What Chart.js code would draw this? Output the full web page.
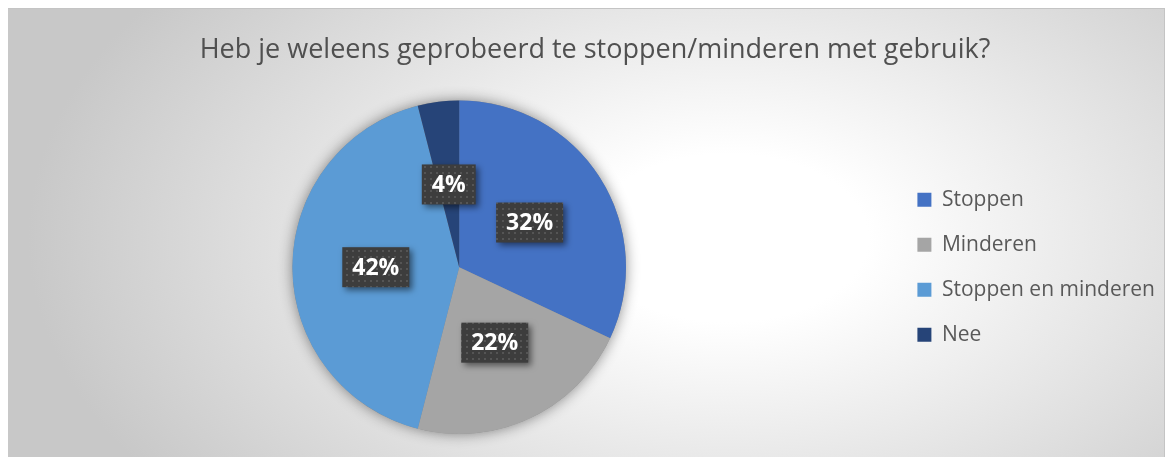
<!DOCTYPE html>
<html>
<head>
<meta charset="utf-8">
<script src="https://cdn.jsdelivr.net/npm/chart.js@4/dist/chart.umd.min.js"></script>
<style>
  body { margin: 0; background: #fff; }
  #wrap {
    position: absolute; left: 8px; top: 8px; width: 1157px; height: 449px;
    background: radial-gradient(700px 420px at 720px 230px, #ffffff 0%, #ffffff 20%, #c8c8c8 100%);
    box-shadow: inset 0 1px 0 #c4c4c4, inset -1px 0 0 #c4c4c4;
  }
</style>
</head>
<body>
<div id="wrap"><canvas id="chart" width="1157" height="449"></canvas></div>
<script>
const title = 'Heb je weleens geprobeerd te stoppen/minderen met gebruik?';
const categories = ['Stoppen', 'Minderen', 'Stoppen en minderen', 'Nee'];
const percentages = [32, 22, 42, 4];
const sliceColors = ['#4472C4', '#A5A5A5', '#5B9BD5', '#264478'];

// dotted dark fill used by the Excel-style data label boxes
function dotPattern(ctx) {
  const tile = document.createElement('canvas');
  tile.width = 6;
  tile.height = 6;
  const t = tile.getContext('2d');
  t.fillStyle = '#3d3d3d';
  t.fillRect(0, 0, 6, 6);
  t.fillStyle = '#555555';
  t.fillRect(2, 2, 2, 2);
  return ctx.createPattern(tile, 'repeat');
}

// soft shadow behind the whole pie
const pieShadow = {
  id: 'pieShadow',
  beforeDatasetsDraw(chart) {
    const arc = chart.getDatasetMeta(0).data[0];
    if (!arc) return;
    const ctx = chart.ctx;
    ctx.save();
    ctx.shadowColor = 'rgba(0, 0, 0, 0.45)';
    ctx.shadowBlur = 14;
    ctx.beginPath();
    ctx.arc(arc.x, arc.y, arc.outerRadius, 0, Math.PI * 2);
    ctx.fillStyle = '#888';
    ctx.fill();
    ctx.restore();
  }
};

// percentage boxes in the middle of each slice
const labelBoxes = {
  id: 'labelBoxes',
  afterDatasetsDraw(chart) {
    const ctx = chart.ctx;
    const values = chart.data.datasets[0].data;
    const total = values.reduce((a, b) => a + b, 0);
    const fill = dotPattern(ctx);
    ctx.save();
    ctx.font = 'bold 23px "Open Sans"';
    ctx.textAlign = 'center';
    ctx.textBaseline = 'middle';
    chart.getDatasetMeta(0).data.forEach((arc, i) => {
      const pos = arc.tooltipPosition();
      const text = Math.round(values[i] / total * 100) + '%';
      const w = ctx.measureText(text).width + 20;
      const h = 40;
      ctx.save();
      ctx.shadowColor = 'rgba(0, 0, 0, 0.5)';
      ctx.shadowBlur = 6;
      ctx.shadowOffsetX = 3;
      ctx.shadowOffsetY = 3;
      ctx.fillStyle = fill;
      ctx.fillRect(pos.x - w / 2, pos.y - h / 2, w, h);
      ctx.restore();
      ctx.fillStyle = '#ffffff';
      ctx.fillText(text, pos.x, pos.y + 1);
    });
    ctx.restore();
  }
};

new Chart(document.getElementById('chart'), {
  type: 'pie',
  data: {
    labels: categories,
    datasets: [{
      data: percentages,
      backgroundColor: sliceColors,
      borderWidth: 0
    }]
  },
  plugins: [pieShadow, labelBoxes],
  options: {
    responsive: false,
    animation: false,
    layout: {
      padding: {left: 17, right: 0, top: 0, bottom: 23}
    },
    plugins: {
      title: {
        display: true,
        text: title,
        color: '#505050',
        font: {family: '"Open Sans"', size: 27, weight: 'normal'},
        padding: {top: 26, bottom: 34}
      },
      legend: {
        position: 'right',
        fullSize: false,
        labels: {
          color: '#595959',
          font: {family: '"Open Sans"', size: 21},
          boxWidth: 14,
          boxHeight: 14,
          padding: 24
        }
      },
      tooltip: {enabled: false}
    }
  }
});
</script>
</body>
</html>
